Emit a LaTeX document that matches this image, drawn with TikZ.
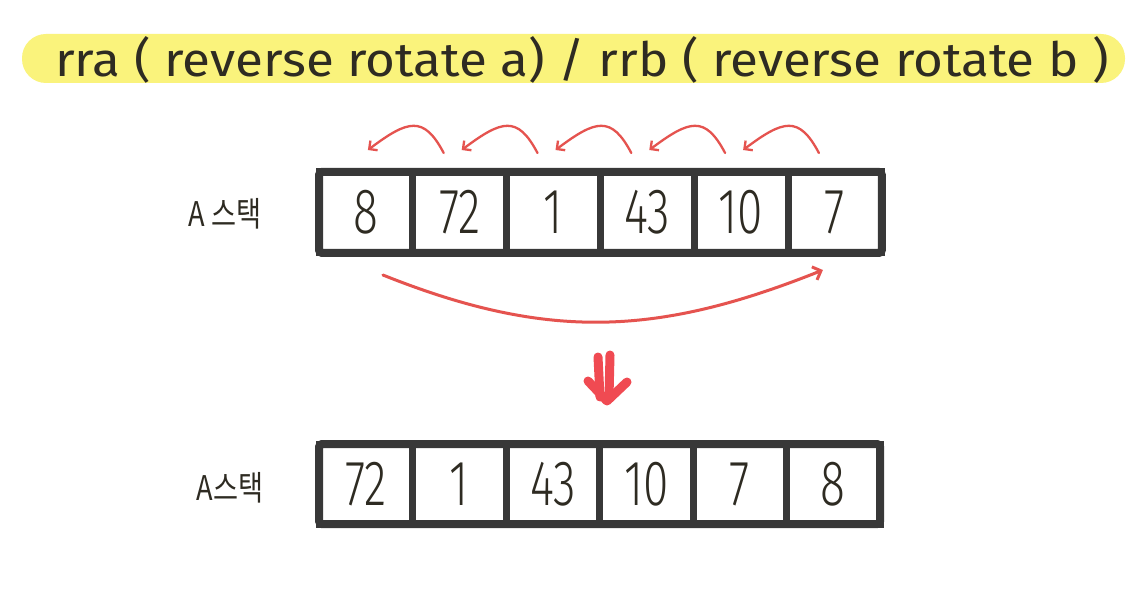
\documentclass[tikz,border=0pt]{standalone}
\usepackage{fontspec}
\usetikzlibrary{arrows.meta,calc}
\setmainfont{Fira Sans}
\newfontfamily\numfont[FakeStretch=0.72]{Fira Sans Light}
\newfontfamily\krfont[FakeStretch=0.8]{Noto Sans CJK KR}
\definecolor{hl}{HTML}{FAF37C}
\definecolor{ink}{HTML}{2E2B22}
\definecolor{boxc}{HTML}{383838}
\definecolor{arc}{HTML}{E5534F}
\definecolor{bigred}{HTML}{F04A52}
\begin{document}
\begin{tikzpicture}[x=1pt,y=-1pt,
  cell/.style={draw=boxc, line width=7pt, minimum width=93.8pt, minimum height=81pt,
    inner sep=0pt, outer sep=0pt, text=ink, font=\numfont\fontsize{64}{64}\selectfont},
  cellb/.style={cell, minimum width=93.5pt, minimum height=80pt},
  frame/.style={draw=boxc, line width=8pt, rounded corners=3pt},
  lbl/.style={text=ink, inner sep=0pt, font=\krfont\fontsize{34}{34}\selectfont},
  smallarc/.style={draw=arc, line width=2.3pt, line cap=round,
    -{Straight Barb[length=6pt,width=12pt,line width=2.3pt]}},
  bigarc/.style={draw=arc, line width=3pt, line cap=round,
    -{Straight Barb[length=7pt,width=14pt,line width=3pt]}},
  downarr/.style={draw=bigred, line width=9pt, line cap=round, line join=round}]
\useasboundingbox (0,0) rectangle (1145,601);
\fill[white] (0,0) rectangle (1145,601);
% title
\fill[hl, rounded corners=24pt] (22,34) rectangle (1125,83);
\node[anchor=base west, inner sep=0pt, text=ink] (title) at (55,77)
  {\resizebox{1053pt}{40pt}{rra ( reverse rotate a) / rrb ( reverse rotate b )}};
% top row
\foreach \v [count=\i] in {8,72,1,43,10,7}
  \node[cell] (t\i) at ({272.1+93.8*\i},212.5) {\v};
\draw[frame] (t1.north west) rectangle (t6.south east);
\node[lbl] (la) at (225,214) {A 스택};
% small arcs
\foreach \a/\b in {1/2,2/3,3/4,4/5,5/6}
  \draw[smallarc] ($(t\b.north)+(-16,-19)$) .. controls +(-20,-38) and +(40,-30) .. ($(t\a.north)+(2,-22)$);
% big arc
\draw[bigarc] ($(t1.south)+(17,22)$) .. controls +(165,66) and +(-165,66) .. ($(t6.south)+(-12,17)$);
% down arrow
\coordinate (dn) at (607,378);
\draw[downarr] ($(dn)+(-9,-21)$) -- ($(dn)+(-7,19)$);
\draw[downarr] ($(dn)+(3,-23)$) -- ($(dn)+(2,19)$);
\draw[downarr] ($(dn)+(-19,3)$) -- ($(dn)+(0,23)$) -- ($(dn)+(20,4)$);
% bottom row
\foreach \v [count=\i] in {72,1,43,10,7,8}
  \node[cellb] (b\i) at ({272.25+93.5*\i},484) {\v};
\draw[frame] (b1.north west) rectangle (b6.south east);
\node[lbl] (lb) at (230,488) {A스택};
\end{tikzpicture}
\end{document}
